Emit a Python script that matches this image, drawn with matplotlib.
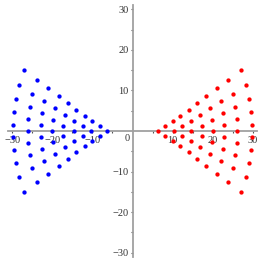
import matplotlib
matplotlib.use('Agg')
import matplotlib.pyplot as plt

plt.rcParams['font.family'] = ['Liberation Serif', 'DejaVu Serif']

# red points (right fan), read row by row from the apex outward
red_x = [6.25,
         8.1, 8.1,
         10.0, 10.3, 10.0,
         11.9, 12.3, 12.3, 11.9,
         14.0, 14.55, 14.7, 14.55, 14.0,
         16.15, 16.9, 17.25, 17.25, 16.9, 16.15,
         18.45, 19.35, 19.85, 20.0, 19.85, 19.35, 18.45,
         21.05, 22.05, 22.6, 22.85, 22.85, 22.6, 22.05, 21.05,
         23.93, 25.0, 25.68, 26.0, 26.15, 26.0, 25.68, 25.0, 23.93,
         27.2, 28.4, 29.15, 29.6, 29.85, 29.85, 29.6, 29.15, 28.4, 27.2]
red_y = [0.0,
         1.2, -1.2,
         2.45, 0.0, -2.45,
         3.8, 1.25, -1.25, -3.8,
         5.2, 2.55, 0.0, -2.55, -5.2,
         6.85, 4.0, 1.3, -1.3, -4.0, -6.85,
         8.65, 5.63, 2.8, 0.0, -2.8, -5.63, -8.65,
         10.5, 7.33, 4.36, 1.45, -1.45, -4.36, -7.33, -10.5,
         12.65, 9.2, 6.04, 3.0, 0.0, -3.0, -6.04, -9.2, -12.65,
         15.1, 11.35, 7.95, 4.7, 1.57, -1.57, -4.7, -7.95, -11.35, -15.1]

# blue points (left fan)
blue_x = [-6.25,
          -8.1, -8.1,
          -10.0, -10.3, -10.0,
          -11.9, -12.3, -12.3, -11.9,
          -14.0, -14.55, -14.7, -14.55, -14.0,
          -16.15, -16.9, -17.25, -17.25, -16.9, -16.15,
          -18.45, -19.35, -19.85, -20.0, -19.85, -19.35, -18.45,
          -21.05, -22.05, -22.6, -22.85, -22.85, -22.6, -22.05, -21.05,
          -23.93, -25.0, -25.68, -26.0, -26.15, -26.0, -25.68, -25.0, -23.93,
          -27.2, -28.4, -29.15, -29.6, -29.85, -29.85, -29.6, -29.15, -28.4, -27.2]
blue_y = [0.0,
          1.2, -1.2,
          2.45, 0.0, -2.45,
          3.8, 1.25, -1.25, -3.8,
          5.2, 2.55, 0.0, -2.55, -5.2,
          6.85, 4.0, 1.3, -1.3, -4.0, -6.85,
          8.65, 5.63, 2.8, 0.0, -2.8, -5.63, -8.65,
          10.5, 7.33, 4.36, 1.45, -1.45, -4.36, -7.33, -10.5,
          12.65, 9.2, 6.04, 3.0, 0.0, -3.0, -6.04, -9.2, -12.65,
          15.1, 11.35, 7.95, 4.7, 1.57, -1.57, -4.7, -7.95, -11.35, -15.1]

major_ticks = [-30, -20, -10, 10, 20, 30]
minor_ticks = [-25, -15, -5, 5, 15, 25]

fig = plt.figure(figsize=(2.62, 2.62), dpi=100)
ax = fig.add_axes([8 / 262, 5 / 262, 249 / 262, 252 / 262])
ax.set_xlim(-31.1, 31.1)
ax.set_ylim(-31.1, 31.1)

# Maple-like axes crossing at the origin
for s in ['top', 'right']:
    ax.spines[s].set_visible(False)
for s in ['left', 'bottom']:
    ax.spines[s].set_position(('data', 0))
    ax.spines[s].set_color('#a0a0a0')
    ax.spines[s].set_linewidth(1.3)

ax.set_xticks(major_ticks)
ax.set_yticks(major_ticks)
ax.set_xticks(minor_ticks, minor=True)
ax.set_yticks(minor_ticks, minor=True)
ax.tick_params(which='both', direction='out', length=1.6, width=0.8,
               color='#555555', labelsize=7.5, labelcolor='#333333')
ax.tick_params(axis='x', pad=1.8)
ax.tick_params(axis='y', pad=1.0)
ax.text(-1.4, -1.9, '0', fontsize=7.5, color='#333333', ha='center', va='center')

ax.plot(blue_x, blue_y, 'o', color='#0000ff', ms=3.1, mec='none', zorder=5, clip_on=False)
ax.plot(red_x, red_y, 'o', color='#ff0000', ms=3.1, mec='none', zorder=5, clip_on=False)

fig.savefig('out.png', dpi=100)
